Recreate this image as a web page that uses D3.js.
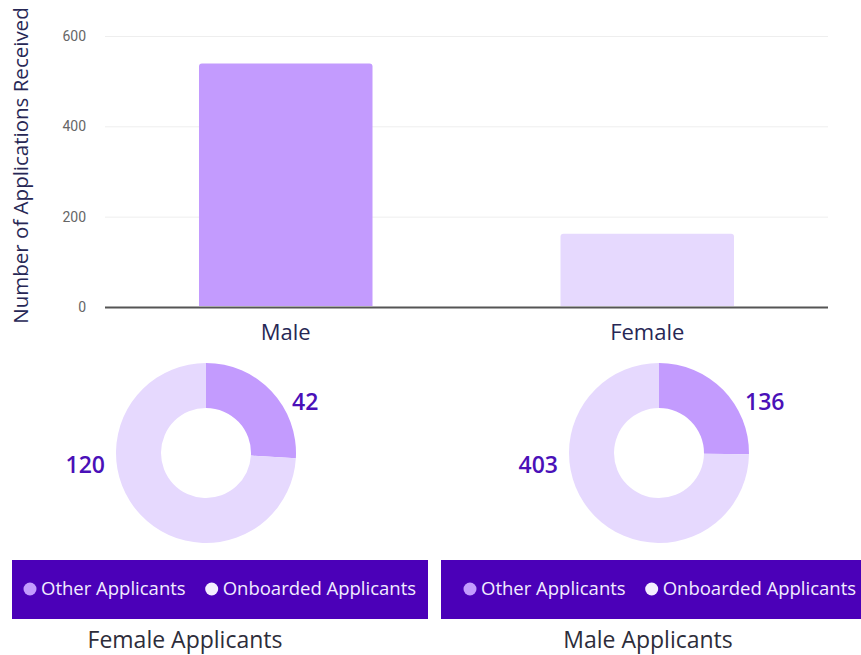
<!DOCTYPE html>
<html lang="en">

<head>
  <meta charset="UTF-8">
  <script src="https://cdn.jsdelivr.net/npm/d3@7"></script>
  <title>Applications by gender</title>
  <style>
    body { margin: 0; background: #fff; }
    text { font-family: "Open Sans", sans-serif; }
  </style>
</head>

<body>
  <svg width="861" height="655"></svg>
</body>
<script>
  // bar chart data
  const genders = ["Male", "Female"];
  const applications = [539, 162];
  const yTicks = [0, 200, 400, 600];

  // donut data (left = female, right = male)
  const donutTitles = ["Female Applicants", "Male Applicants"];
  const otherApplicants = [42, 136];
  const onboardedApplicants = [120, 403];
  const legendLabels = ["Other Applicants", "Onboarded Applicants"];

  const sliceColors = ["#c39bfe", "#e6d9fe"];
  const legendDots = ["#c39bfe", "#f4eeff"];
  const ink = "#4a10b8";

  const svg = d3.select("svg");

  /**
   * bar chart
   */
  const plot = { left: 105, right: 828, top: 36, bottom: 307 };

  const xScale = d3.scaleBand()
    .domain(genders)
    .range([plot.left, plot.right])
    .paddingInner(0.52)
    .paddingOuter(0.26);

  const yScale = d3.scaleLinear()
    .domain([0, 600])
    .range([plot.bottom, plot.top]);

  // grid + tick labels
  const yAxis = svg.append("g")
    .attr("transform", "translate(" + plot.left + ",0)")
    .call(d3.axisLeft(yScale).tickValues(yTicks).tickSize(0).tickPadding(19));
  yAxis.select(".domain").remove();
  yAxis.selectAll(".tick text")
    .attr("fill", "#666")
    .style("font-family", "Roboto, sans-serif")
    .style("font-size", "14px");
  yAxis.selectAll(".tick")
    .append("line")
    .attr("x2", plot.right - plot.left)
    .attr("stroke", d => d === 0 ? "#555" : "#eee")
    .attr("stroke-width", d => d === 0 ? 2 : 1);

  svg.append("text")
    .attr("transform", "translate(28," + ((plot.top + plot.bottom) / 2 - 6) + ") rotate(-90)")
    .attr("text-anchor", "middle")
    .attr("fill", "#272755")
    .style("font-size", "20.5px")
    .text("Number of Applications Received");

  const bars = genders.map((g, i) => ({ gender: g, value: applications[i] }));

  svg.append("g")
    .selectAll("path")
    .data(bars)
    .join("path")
    .attr("fill", (d, i) => sliceColors[i])
    .attr("d", d => {
      const x0 = xScale(d.gender), x1 = x0 + xScale.bandwidth();
      const y0 = yScale(0) - 1, y1 = yScale(d.value), r = 3;
      return "M" + x0 + "," + y0 + "V" + (y1 + r) + "Q" + x0 + "," + y1 + " " + (x0 + r) + "," + y1 +
        "H" + (x1 - r) + "Q" + x1 + "," + y1 + " " + x1 + "," + (y1 + r) + "V" + y0 + "Z";
    });

  svg.append("g")
    .selectAll("text")
    .data(genders)
    .join("text")
    .attr("x", d => xScale(d) + xScale.bandwidth() / 2)
    .attr("y", plot.bottom + 33)
    .attr("text-anchor", "middle")
    .attr("fill", "#272755")
    .style("font-size", "22px")
    .text(d => d);

  /**
   * donuts
   */
  const donutCenters = d3.scalePoint().domain(donutTitles).range([206, 659]);
  const cy = 453, outerR = 90, innerR = 45;

  const pie = d3.pie().sort(null).value(d => d);
  const arc = d3.arc().innerRadius(innerR).outerRadius(outerR);

  donutTitles.forEach((title, i) => {
    const cx = donutCenters(title);
    const g = svg.append("g").attr("transform", "translate(" + cx + "," + cy + ")");
    const slices = pie([otherApplicants[i], onboardedApplicants[i]]);

    g.selectAll("path")
      .data(slices)
      .join("path")
      .attr("d", arc)
      .attr("fill", (d, j) => sliceColors[j]);

    g.append("text")
      .attr("x", outerR - 4)
      .attr("y", -43)
      .attr("fill", ink)
      .style("font-size", "23px")
      .style("font-weight", "600")
      .text(otherApplicants[i]);

    g.append("text")
      .attr("x", -outerR - 11)
      .attr("y", 20)
      .attr("text-anchor", "end")
      .attr("fill", ink)
      .style("font-size", "23px")
      .style("font-weight", "600")
      .text(onboardedApplicants[i]);

    // legend band
    const lx = i === 0 ? 12 : 441;
    const lw = i === 0 ? 416 : 420;
    const lg = svg.append("g").attr("transform", "translate(" + lx + ",560)");
    lg.append("rect")
      .attr("width", lw)
      .attr("height", 59)
      .attr("fill", "#4b00b8");

    let off = i === 0 ? 18 : 29;
    legendLabels.forEach((lab, j) => {
      lg.append("circle")
        .attr("cx", off)
        .attr("cy", 29)
        .attr("r", 6.5)
        .attr("fill", legendDots[j]);
      const t = lg.append("text")
        .attr("x", off + 11)
        .attr("y", 35)
        .attr("fill", "#f2ecff")
        .style("font-size", "18.5px")
        .text(lab);
      off += 11 + t.node().getComputedTextLength() + 26;
    });

    svg.append("text")
      .attr("x", i === 0 ? 185 : 648)
      .attr("y", 648)
      .attr("text-anchor", "middle")
      .attr("fill", "#2d2d3a")
      .style("font-size", "23px")
      .text(title);
  });
</script>

</html>
